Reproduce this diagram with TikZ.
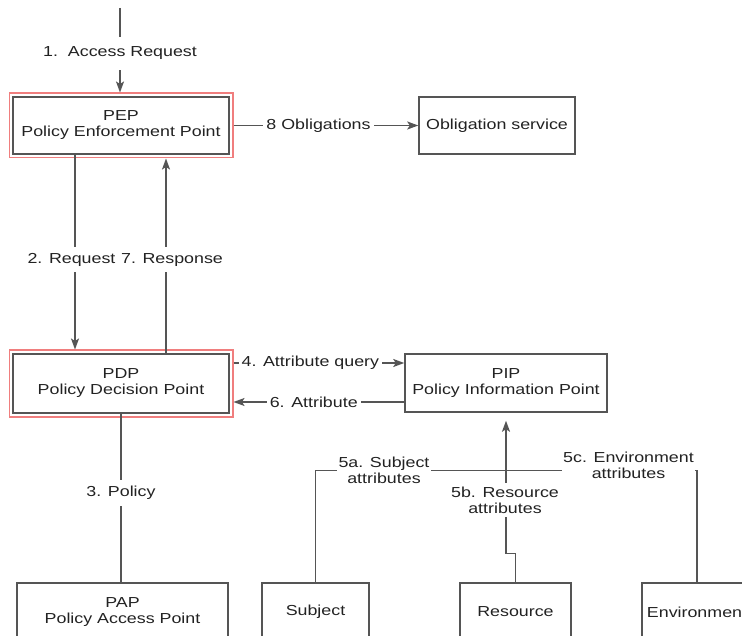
\documentclass[tikz,border=0pt]{standalone}
\usepackage{fontspec}
\setmainfont{Liberation Sans}[FakeStretch=1.23]
\usepackage{tikz}
\usetikzlibrary{arrows.meta,fit}
\definecolor{linegray}{HTML}{555555}
\definecolor{framered}{HTML}{F07E7E}
\definecolor{textgray}{HTML}{222222}

\begin{document}
\begin{tikzpicture}[x=1pt, y=-1pt,
  font=\fontsize{14.5}{16}\selectfont, text=textgray,
  >={Stealth[length=11pt,width=8pt,inset=2.5pt]},
  box/.style={draw=linegray, line width=1.5pt, align=center, inner sep=0pt},
  redframe/.style={draw=framered, line width=1.5pt, inner sep=3pt},
  link/.style={draw=linegray, line width=1.5pt},
  lbl/.style={fill=white, inner xsep=3pt, inner ysep=6pt, align=center}]
 \useasboundingbox (0,0) rectangle (742,636);
 \clip (0,0) rectangle (742,636);
 \node[box, minimum width=216pt, minimum height=57pt] (pep) at (121,125.5) {PEP\\Policy Enforcement Point};
 \node[redframe, fit=(pep)] (pepframe) {};
 \node[box, minimum width=156pt, minimum height=57pt] (oblig) at (497,125.5) {Obligation service};
 \node[box, minimum width=216pt, minimum height=59pt] (pdp) at (121,383.5) {PDP\\Policy Decision Point};
 \node[redframe, fit=(pdp)] (pdpframe) {};
 \node[box, minimum width=202pt, minimum height=58pt] (pip) at (506,383) {PIP\\Policy Information Point};
 \node[box, minimum width=211pt, minimum height=58pt] (pap) at (122.5,612) {PAP\\Policy Access Point};
 \node[box, minimum width=107pt, minimum height=58pt] (subject) at (315.5,612) {Subject};
 \node[box, minimum width=111pt, minimum height=58pt] (resource) at (515.5,612) {Resource};
 \node[box, minimum width=110pt, minimum height=58pt] (environment) at (697,612) {Environment};
 \coordinate (entry) at (120,8);
 \coordinate (queryy) at (0,363);
 \coordinate (attry) at (0,402);

 \draw[link,->] (entry) -- node[lbl, inner ysep=10pt, pos=0.536] {1.\ \ Access Request} (entry |- pepframe.north);
 \draw[link,->] (pepframe.east) -- node[lbl, pos=0.46] {8 Obligations} (oblig.west);
 \draw[link,->] ([xshift=-46pt]pep.south) -- node[lbl, pos=0.54, xshift=-3.5pt] {2. Request} ([xshift=-46pt]pdpframe.north);
 \draw[link,->] ([xshift=45pt]pdp.north) -- node[lbl, pos=0.48, xshift=6pt] {7. Response} ([xshift=45pt]pepframe.south);
 \draw[link] (pdp.south) -- node[lbl, pos=0.47] {3. Policy} (pdp.south |- pap.north);
 \draw[link,->] (pdpframe.east |- queryy) -- node[lbl, pos=0.45] {4. Attribute query} (pip.west |- queryy);
 \draw[link,->] (pip.west |- attry) -- node[lbl, pos=0.53] {6. Attribute} (pdpframe.east |- attry);
 \draw[link] (subject.north) -- ++(0,-112) -| (environment.north);
 \draw[link,->,shorten >=8pt] (resource.north) -- ++(0,-29) -| (pip.south);
 \node[lbl, inner sep=1.5pt] (subjattr) at (384,470) {5a. Subject\\attributes};
 \node[lbl, inner sep=1.5pt] (envattr) at (628.5,465.5) {5c. Environment\\attributes};
 \node[lbl, inner ysep=4pt] (resattr) at (505,500) {5b. Resource\\attributes};
\end{tikzpicture}
\end{document}
